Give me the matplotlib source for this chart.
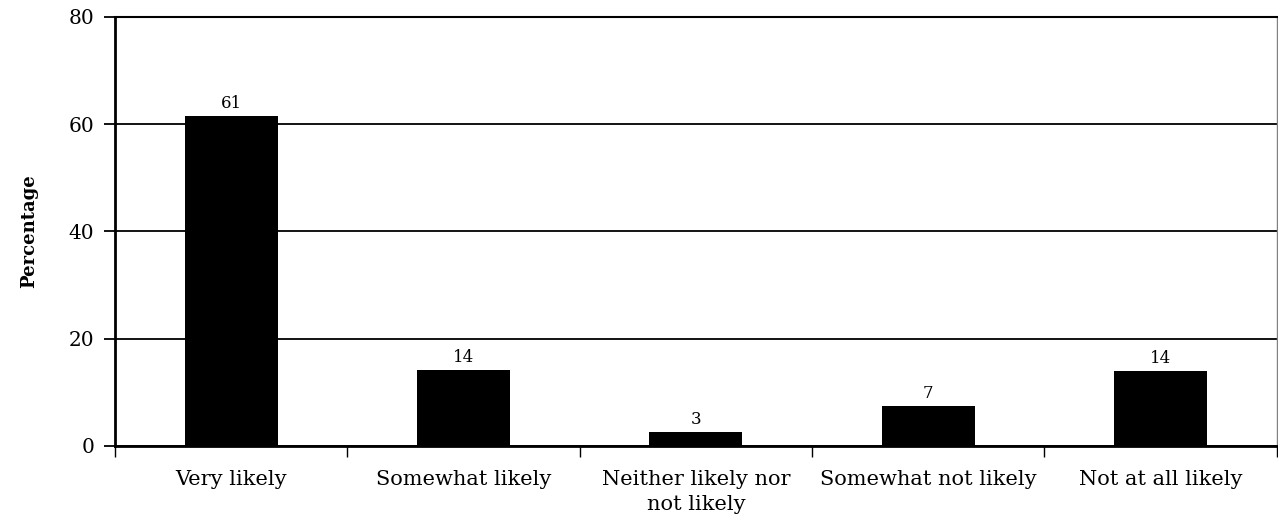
#bar chart - how likely, percentage per answer
import matplotlib.pyplot as plt
import numpy as np

categories = ['Very likely', 'Somewhat likely', 'Neither likely nor\nnot likely',
              'Somewhat not likely', 'Not at all likely']
values = [61.5, 14.2, 2.6, 7.5, 14.0]
value_labels = ['61', '14', '3', '7', '14']
yticks = [0, 20, 40, 60, 80]

plt.rcParams['font.family'] = ['DejaVu Serif']

fig = plt.figure(figsize=(12.78, 5.24), dpi=100)
ax = fig.add_axes([0.090, 0.149, 0.909, 0.819])

x = np.arange(len(categories))
ax.bar(x, values, width=0.4, color='black', zorder=3)

#value labels on top of bars
for xi, v, lab in zip(x, values, value_labels):
    ax.text(xi, v + 0.7, lab, ha='center', va='bottom', fontsize=12)

ax.set_xlim(-0.5, len(categories) - 0.5)
ax.set_ylim(0, 80)
ax.set_yticks(yticks)
ax.set_yticklabels([str(t) for t in yticks], fontsize=14.5)
ax.yaxis.grid(True, color='black', linewidth=1.3, zorder=0)

#category names in the middle, ticks on the borders
ax.set_xticks(x)
ax.set_xticklabels(categories, fontsize=15, linespacing=1.4)
ax.tick_params(axis='x', length=0, pad=17)
ax.set_xticks(np.arange(-0.5, len(categories)), minor=True)
ax.tick_params(axis='x', which='minor', length=8, width=1, direction='out')
ax.tick_params(axis='y', length=8, width=1.3, direction='out', pad=7)

ax.set_ylabel('Percentage', fontsize=13, fontweight='bold', labelpad=22)

for s in ['left', 'bottom']:
    ax.spines[s].set_linewidth(2)
ax.spines['top'].set_color('black')
ax.spines['top'].set_linewidth(1.5)
ax.spines['right'].set_color('gray')
ax.spines['right'].set_linewidth(1)

fig.savefig('out.png', dpi=100)
